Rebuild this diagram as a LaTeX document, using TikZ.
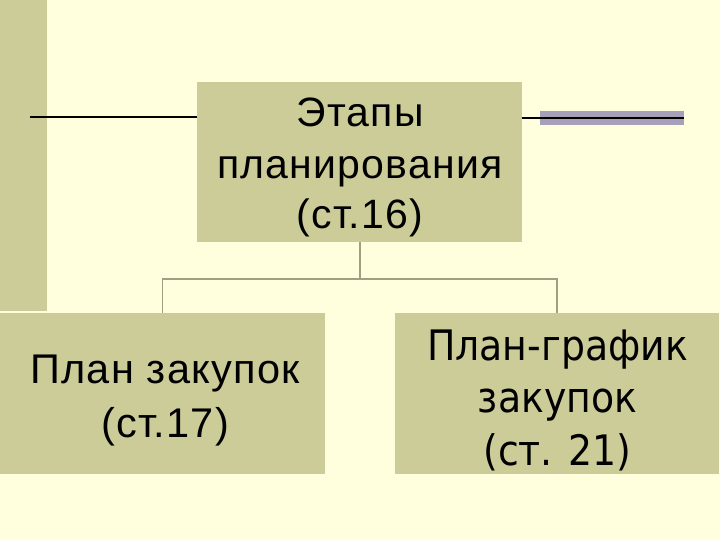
\documentclass[tikz,border=0pt]{standalone}
\usepackage{fontspec}
\setmainfont{Liberation Sans}
\newfontfamily\arialsp[LetterSpace=3]{Liberation Sans}
\newfontfamily\tahomafont{DejaVu Sans Condensed}
\definecolor{bgc}{RGB}{255,255,222}
\definecolor{boxc}{RGB}{204,204,153}
\definecolor{connc}{RGB}{160,160,128}
\definecolor{bandc}{RGB}{166,160,186}
\begin{document}
\begin{tikzpicture}[x=1pt,y=-1pt,
  boxnode/.style={rectangle,fill=boxc,draw=none,inner sep=0pt},
  txt/.style={align=center,inner sep=0pt,anchor=base,text=black},
  conn/.style={draw=connc,line width=1.8pt},
  blk/.style={draw=black,line width=1.8pt}]
\useasboundingbox[fill=bgc] (0,0) rectangle (720,540);
% left vertical bar
\node[boxnode,minimum width=47pt,minimum height=311pt] (bar) at (23.5,155.5) {};
% boxes
\node[boxnode,minimum width=325pt,minimum height=160pt] (top) at (359.5,162) {};
\node[boxnode,minimum width=325pt,minimum height=161pt] (left) at (162.5,393.5) {};
\node[boxnode,minimum width=324pt,minimum height=161pt] (right) at (557,393.5) {};
% texts (anchor base = last line baseline)
\node[txt,font=\arialsp\fontsize{41}{51}\selectfont] (toptxt) at (360,229) {Этапы\\планирования\\(ст.16)};
\node[txt,font=\arialsp\fontsize{41.5}{54}\selectfont] (lefttxt) at (165,437) {План закупок\\(ст.17)};
\node[txt,font=\tahomafont\fontsize{42}{52.5}\selectfont] (righttxt) at (557.5,465) {План-график\\закупок\\(ст. 21)};
% side lines
\coordinate (l0) at (30,117);
\draw[blk] (l0) -- (top.west |- l0);
\coordinate (r0) at (540,118);
\coordinate (r1) at (684,118);
\draw[draw=bandc,line width=14pt] (r0) -- (r1);
\draw[blk] (top.east |- r1) -- (r1);
% connectors
\coordinate (j) at (360,279);
\draw[conn] (top.south -| j) -- (j);
\draw[conn] (left.north) |- (j) -| (right.north);
\end{tikzpicture}
\end{document}
